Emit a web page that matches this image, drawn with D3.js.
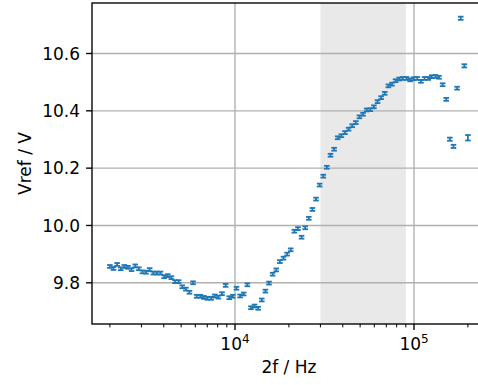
<!DOCTYPE html>
<html>
<head>
<meta charset="utf-8">
<script src="https://cdn.jsdelivr.net/npm/d3@7"></script>
<style>
  body { margin: 0; background: #fff; }
  text { font-family: "DejaVu Sans", sans-serif; fill: #000; }
</style>
</head>
<body>
<svg id="chart" width="478" height="385"></svg>
<script>
// Measured reference voltage versus doubled modulation frequency
const freq = [
  2000, 2095, 2195, 2300, 2409, 2524, 2644, 2770, 2902, 3040,
  3185, 3336, 3495, 3662, 3836, 4019, 4210, 4411, 4621, 4841,
  5071, 5313, 5566, 5831, 6108, 6399, 6704, 7023, 7358, 7708,
  8075, 8460, 8863, 9285, 9727, 10190, 10675, 11183, 11716, 12273,
  12858, 13470, 14112, 14784, 15488, 16225, 16998, 17807, 18655, 19544,
  20474, 21449, 22471, 23541, 24662, 25836, 27067, 28355, 29706, 31120,
  32602, 34155, 35781, 37485, 39270, 41140, 43099, 45152, 47302, 49554,
  51914, 54387, 56977, 59690, 62532, 65510, 68630, 71898, 75322, 78909,
  82666, 86603, 90727, 95048, 99575, 104317, 109284, 114488, 119940, 125652,
  131636, 137905, 144472, 151352, 158559, 166110, 174020, 182307, 190989, 200000
];
const vref = [
  9.857, 9.850, 9.864, 9.849, 9.857, 9.854, 9.846, 9.859, 9.849, 9.838,
  9.837, 9.846, 9.834, 9.834, 9.834, 9.821, 9.825, 9.818, 9.804, 9.804,
  9.786, 9.778, 9.767, 9.800, 9.753, 9.753, 9.749, 9.746, 9.746, 9.754,
  9.750, 9.762, 9.791, 9.748, 9.753, 9.781, 9.754, 9.761, 9.793, 9.713,
  9.719, 9.711, 9.740, 9.771, 9.799, 9.830, 9.845, 9.874, 9.886, 9.900,
  9.915, 9.980, 9.989, 9.959, 9.992, 10.025, 10.056, 10.092, 10.141, 10.172,
  10.203, 10.245, 10.266, 10.306, 10.313, 10.324, 10.336, 10.348, 10.359, 10.379,
  10.388, 10.403, 10.404, 10.414, 10.432, 10.446, 10.461, 10.487, 10.493, 10.505,
  10.511, 10.513, 10.513, 10.508, 10.512, 10.513, 10.503, 10.513, 10.513, 10.519,
  10.520, 10.517, 10.491, 10.440, 10.301, 10.276, 10.479, 10.723, 10.557, 10.306
];
const vrefErr = [
  0.005, 0.005, 0.005, 0.005, 0.005, 0.005, 0.005, 0.005, 0.005, 0.005,
  0.005, 0.005, 0.005, 0.005, 0.005, 0.005, 0.005, 0.005, 0.005, 0.005,
  0.005, 0.005, 0.005, 0.005, 0.005, 0.005, 0.005, 0.005, 0.005, 0.005,
  0.005, 0.005, 0.005, 0.005, 0.005, 0.005, 0.005, 0.005, 0.005, 0.005,
  0.005, 0.005, 0.005, 0.005, 0.005, 0.005, 0.005, 0.005, 0.005, 0.005,
  0.005, 0.005, 0.005, 0.005, 0.005, 0.005, 0.005, 0.005, 0.005, 0.005,
  0.005, 0.005, 0.005, 0.005, 0.005, 0.005, 0.005, 0.005, 0.005, 0.005,
  0.005, 0.005, 0.005, 0.005, 0.005, 0.005, 0.005, 0.005, 0.005, 0.005,
  0.005, 0.005, 0.005, 0.005, 0.005, 0.005, 0.005, 0.005, 0.005, 0.005,
  0.005, 0.005, 0.005, 0.005, 0.0055, 0.0055, 0.005, 0.0055, 0.0055, 0.0095
];

// Highlighted frequency band
const bandRange = [30000, 90000];

// Axis ticks
const yTicks = [9.8, 10.0, 10.2, 10.4, 10.6];
const yTickLabels = ["9.8", "10.0", "10.2", "10.4", "10.6"];
const xTicks = [1e4, 1e5];
const xTickExponents = ["4", "5"];
const xMinorTicks = [2000, 3000, 4000, 5000, 6000, 7000, 8000, 9000,
                     20000, 30000, 40000, 50000, 60000, 70000, 80000, 90000, 200000];

const svg = d3.select("#chart");
const plot = { left: 92, right: 485.8, top: 3, bottom: 324 };

const x = d3.scaleLog()
  .domain([Math.pow(10, 3.2011), Math.pow(10, 5.401)])
  .range([plot.left, plot.right]);
const y = d3.scaleLinear()
  .domain([9.8, 10.6])
  .range([282.8, 53.5]);

const blue = "#1f77b4";

svg.append("defs").append("clipPath").attr("id", "plotClip")
  .append("rect")
  .attr("x", plot.left).attr("y", plot.top)
  .attr("width", plot.right - plot.left).attr("height", plot.bottom - plot.top);

const area = svg.append("g").attr("clip-path", "url(#plotClip)");

// Shaded band
area.append("rect")
  .attr("x", x(bandRange[0]))
  .attr("y", plot.top)
  .attr("width", x(bandRange[1]) - x(bandRange[0]))
  .attr("height", plot.bottom - plot.top)
  .attr("fill", "#e9e9e9");

// Grid lines
area.selectAll("line.gx").data(xTicks).join("line")
  .attr("class", "gx")
  .attr("x1", d => x(d)).attr("x2", d => x(d))
  .attr("y1", plot.top).attr("y2", plot.bottom)
  .attr("stroke", "#b0b0b0").attr("stroke-width", 1.36);
area.selectAll("line.gy").data(yTicks).join("line")
  .attr("class", "gy")
  .attr("x1", plot.left).attr("x2", plot.right)
  .attr("y1", d => y(d)).attr("y2", d => y(d))
  .attr("stroke", "#b0b0b0").attr("stroke-width", 1.36);

// Error bars
const pts = freq.map((f, i) => ({ f, v: vref[i], e: vrefErr[i] }));
const capHalf = 2.8;
const bars = area.append("g")
  .attr("stroke", blue).attr("stroke-width", 1.8).attr("fill", "none");
pts.forEach(p => {
  const cx = x(p.f), yt = y(p.v + p.e), yb = y(p.v - p.e);
  bars.append("line").attr("x1", cx).attr("x2", cx).attr("y1", yt).attr("y2", yb);
  bars.append("line").attr("x1", cx - capHalf).attr("x2", cx + capHalf).attr("y1", yt).attr("y2", yt);
  bars.append("line").attr("x1", cx - capHalf).attr("x2", cx + capHalf).attr("y1", yb).attr("y2", yb);
});

// Spines
const spine = svg.append("g").attr("stroke", "#000").attr("stroke-width", 1.36).attr("fill", "none");
spine.append("rect")
  .attr("x", plot.left).attr("y", plot.top)
  .attr("width", plot.right - plot.left).attr("height", plot.bottom - plot.top);

// Axis ticks
const ticks = svg.append("g").attr("stroke", "#000");
xTicks.forEach(t => {
  ticks.append("line").attr("x1", x(t)).attr("x2", x(t))
    .attr("y1", plot.bottom).attr("y2", plot.bottom + 5.9).attr("stroke-width", 1.36);
});
xMinorTicks.filter(t => x(t) >= plot.left && x(t) <= plot.right).forEach(t => {
  ticks.append("line").attr("x1", x(t)).attr("x2", x(t))
    .attr("y1", plot.bottom).attr("y2", plot.bottom + 3.4).attr("stroke-width", 1.0);
});
yTicks.forEach(t => {
  ticks.append("line").attr("x1", plot.left - 5.9).attr("x2", plot.left)
    .attr("y1", y(t)).attr("y2", y(t)).attr("stroke-width", 1.36);
});

// X tick labels: 10 with exponent
xTicks.forEach((t, i) => {
  const txt = svg.append("text")
    .attr("x", x(t)).attr("y", 350)
    .attr("text-anchor", "middle")
    .attr("font-size", 17);
  txt.append("tspan").text("10");
  txt.append("tspan").attr("dy", -7.5).attr("font-size", 12).text(xTickExponents[i]);
});

// Y tick labels
yTicks.forEach((t, i) => {
  svg.append("text")
    .attr("x", 80).attr("y", y(t) + 6.2)
    .attr("text-anchor", "end")
    .attr("font-size", 17)
    .text(yTickLabels[i]);
});

// Axis titles
svg.append("text")
  .attr("x", (plot.left + plot.right) / 2).attr("y", 373)
  .attr("text-anchor", "middle").attr("font-size", 17)
  .text("2f / Hz");
svg.append("text")
  .attr("transform", `translate(31,${(plot.top + plot.bottom) / 2}) rotate(-90)`)
  .attr("text-anchor", "middle").attr("font-size", 17)
  .text("Vref / V");
</script>
</body>
</html>
